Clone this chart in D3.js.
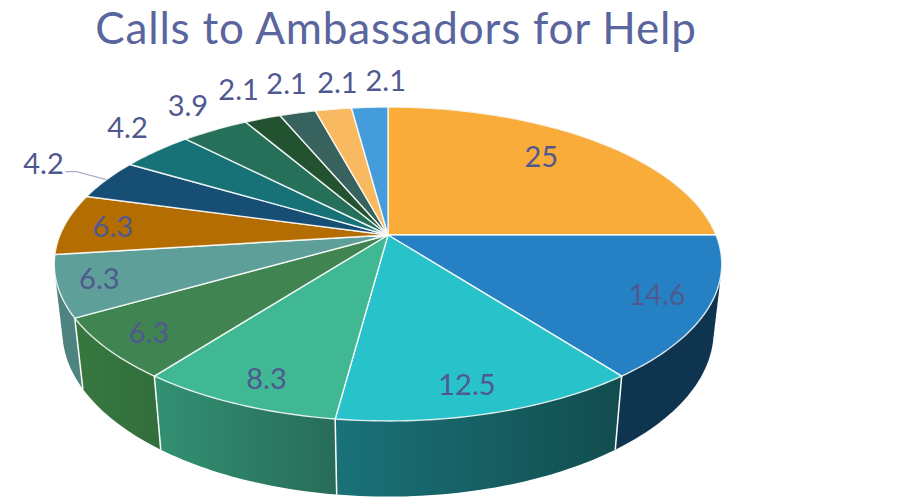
<!DOCTYPE html>
<html>
<head>
<meta charset="utf-8">
<script src="https://cdn.jsdelivr.net/npm/d3@7"></script>
<style>
  body { margin: 0; background: #fff; }
  text { font-family: Lato, "Open Sans", sans-serif; }
</style>
</head>
<body>
<script>
const chartTitle = "Calls to Ambassadors for Help";
const sliceValues = [25, 14.6, 12.5, 8.3, 6.3, 6.3, 6.3, 4.2, 4.2, 3.9, 2.1, 2.1, 2.1, 2.1];
const topColors = ["#F9AC3A", "#2581C4", "#27C2CA", "#40B893", "#408551", "#5F9F9A", "#B36D00",
                   "#164E74", "#167276", "#266F58", "#235230", "#38625E", "#F8B960", "#459CDB"];
// the first and seventh walls only ever show as slivers, the reference has the neighbour's colour there
const wallLeft = ["#0F3450", "#0F3450", "#1A7279", "#339173", "#37783F", "#4E8480", "#4E8480",
                  "#113C59", "#115A5D", "#1E5946", "#1B4126", "#2C4E4B", "#C6944D", "#377CAF"];
const wallRight = ["#0F3450", "#0F3450", "#124D4E", "#276C58", "#326E3C", "#4E8480", "#4E8480",
                   "#113C59", "#115A5D", "#1E5946", "#1B4126", "#2C4E4B", "#C6944D", "#377CAF"];

// hand placement of the labels, in pixels from their anchor (same order as sliceValues)
const labelNudge = [[-7, -4], [-3, -3], [-7, 1], [5, 2], [-2, 2], [-7, 0], [3, 1],
                    [-63, -16], [-29, -23], [-27, -24], [-24, -29], [-11, -29], [4, -27], [16, -27]];
const firstOutsideLabel = 7;

var width = 912;
var height = 498;

// Perspective view of the disc: cx, cy is where the disc centre lands
var cx = 388, cy = 235;
var k = 328, a = 151.6, c = -0.1847; // top face
var depthShift = 68, depthPersp = 0.0241; // bottom face

function project(angle, r, depth) {
  const u = Math.sin(angle) * r;
  const v = -Math.cos(angle) * r;
  const w = 1 + c * v + depthPersp * depth;
  return [cx + k * u / w, cy + (a * v + depthShift * depth) / w];
}

function arcPoints(d, depth) {
  const n = Math.max(2, Math.ceil((d.endAngle - d.startAngle) / 0.02));
  return d3.range(n + 1).map(i =>
    project(d.startAngle + (d.endAngle - d.startAngle) * i / n, 1, depth));
}

// hull so the outline stays tangent to both faces at the sides
function wallOutline(d) {
  return d3.polygonHull(arcPoints(d, 0).concat(arcPoints(d, 1)));
}

var svg = d3.select("body").append("svg")
  .attr("width", width)
  .attr("height", height)
  .style("display", "block");

var pie = d3.pie().sort(null).value(d => d);
var slices = pie(sliceValues);
var line = d3.line();
var defs = svg.append("defs");

// walls first, the top faces paint over whatever is hidden
slices.forEach((d, i) => {
  const xs = wallOutline(d).map(p => p[0]);
  const grad = defs.append("linearGradient")
    .attr("id", "wall" + i)
    .attr("gradientUnits", "userSpaceOnUse")
    .attr("x1", d3.min(xs)).attr("x2", d3.max(xs))
    .attr("y1", 0).attr("y2", 0);
  grad.append("stop").attr("offset", 0).attr("stop-color", wallLeft[i]);
  grad.append("stop").attr("offset", 1).attr("stop-color", wallRight[i]);
});

svg.append("g").selectAll("path")
  .data(slices)
  .join("path")
  .attr("d", d => line(wallOutline(d)) + "Z")
  .attr("fill", (d, i) => `url(#wall${i})`);

// separators between the visible walls
svg.append("g").selectAll("line")
  .data(slices.slice(1, 5))
  .join("line")
  .attr("x1", d => project(d.endAngle, 1, 0)[0])
  .attr("y1", d => project(d.endAngle, 1, 0)[1])
  .attr("x2", d => project(d.endAngle, 1, 1)[0])
  .attr("y2", d => project(d.endAngle, 1, 1)[1])
  .attr("stroke", "#fff")
  .attr("stroke-width", 1.5);

svg.append("g").selectAll("path")
  .data(slices)
  .join("path")
  .attr("d", d => line([[cx, cy]].concat(arcPoints(d, 0))) + "Z")
  .attr("fill", (d, i) => topColors[i])
  .attr("stroke", "#fff")
  .attr("stroke-opacity", 0.85)
  .attr("stroke-width", 1.4)
  .attr("stroke-linejoin", "round");

// leader line of the first outside label
var leaderEnd = project((slices[7].startAngle + slices[7].endAngle) / 2, 1, 0);
var leaderStart = [leaderEnd[0] - 41, leaderEnd[1] - 8];
svg.append("path")
  .attr("d", line([leaderStart, [leaderStart[0] + 11, leaderStart[1]], leaderEnd]))
  .attr("fill", "none")
  .attr("stroke", "#A9AFD0")
  .attr("stroke-width", 1.2);

function labelPos(d, i) {
  const mid = (d.startAngle + d.endAngle) / 2;
  const r = i >= firstOutsideLabel ? 1 : (d.value >= 20 ? 0.76 : 0.86);
  const p = project(mid, r, 0);
  return [p[0] + labelNudge[i][0], p[1] + labelNudge[i][1]];
}

svg.append("g").selectAll("text")
  .data(slices)
  .join("text")
  .attr("x", (d, i) => labelPos(d, i)[0])
  .attr("y", (d, i) => labelPos(d, i)[1])
  .attr("dy", "0.36em")
  .attr("text-anchor", "middle")
  .attr("font-size", 29)
  .attr("fill", "#50598F")
  .text(d => d.value);

svg.append("text")
  .attr("x", 396)
  .attr("y", 44)
  .attr("text-anchor", "middle")
  .attr("font-size", 44)
  .attr("letter-spacing", 0.8)
  .attr("fill", "#5A659E")
  .text(chartTitle);
</script>
</body>
</html>
